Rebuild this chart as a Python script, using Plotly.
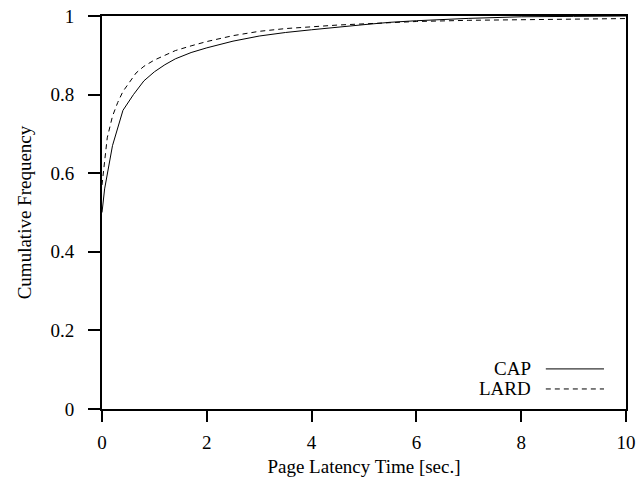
import plotly.graph_objects as go

cap_x = [0, 0.05, 0.2, 0.4, 0.6, 0.8, 1.0, 1.2, 1.4, 1.7, 2.0, 2.5, 3.0, 3.5, 4.0, 4.5, 5.0, 5.5, 6.0, 7.0, 8.0, 9.0, 10.0]
cap_y = [0.50, 0.56, 0.67, 0.76, 0.80, 0.835, 0.858, 0.876, 0.891, 0.907, 0.919, 0.936, 0.949, 0.958, 0.965, 0.972, 0.978, 0.984, 0.988, 0.994, 0.998, 0.999, 1.0]

lard_x = [0, 0.1, 0.2, 0.3, 0.4, 0.5, 0.65, 0.8, 1.0, 1.2, 1.4, 1.7, 2.0, 2.5, 3.0, 3.5, 4.0, 4.5, 5.0, 5.5, 6.0, 7.0, 8.0, 9.0, 10.0]
lard_y = [0.57, 0.69, 0.745, 0.78, 0.808, 0.828, 0.855, 0.872, 0.888, 0.9, 0.912, 0.924, 0.935, 0.95, 0.961, 0.968, 0.973, 0.977, 0.98, 0.983, 0.986, 0.989, 0.991, 0.9925, 0.9935]

x_ticks = [0, 2, 4, 6, 8, 10]
y_ticks = [0, 0.2, 0.4, 0.6, 0.8, 1]
y_tick_text = ["0", "0.2", "0.4", "0.6", "0.8", "1"]

FONT = "Liberation Serif, Times New Roman, serif"
FS = 19

fig = go.Figure()
fig.add_trace(go.Scatter(x=cap_x, y=cap_y, mode="lines", name="CAP",
                         line=dict(color="black", width=1), showlegend=False))
fig.add_trace(go.Scatter(x=lard_x, y=lard_y, mode="lines", name="LARD",
                         line=dict(color="black", width=1, dash="5px,4px"), showlegend=False))

axis_common = dict(showgrid=False, zeroline=False, showline=True, linecolor="black",
                   linewidth=2, mirror=True, ticks="outside", tickwidth=1.5,
                   tickcolor="black", automargin=False,
                   tickfont=dict(family=FONT, size=FS, color="black"))

fig.update_xaxes(range=[0, 10], tickvals=x_ticks, ticktext=[str(v) for v in x_ticks],
                 ticklen=11, ticklabelstandoff=4,
                 title=dict(text="Page Latency Time [sec.]", font=dict(family=FONT, size=FS, color="black"),
                            standoff=8),
                 **axis_common)
fig.update_yaxes(range=[0, 1], tickvals=y_ticks, ticktext=y_tick_text,
                 ticklen=12, ticklabelstandoff=10,
                 title=dict(text="Cumulative Frequency", font=dict(family=FONT, size=FS, color="black"),
                            standoff=14),
                 **axis_common)

# legend drawn manually (text left, line sample right)
legend_items = [("CAP", 0.102, None), ("LARD", 0.051, "5px,4px")]
for name, yp, dash in legend_items:
    fig.add_annotation(x=0.8225, y=yp, xref="paper", yref="paper", text=name, showarrow=False,
                       xanchor="right", yanchor="middle",
                       font=dict(family=FONT, size=FS, color="black"))
    fig.add_shape(type="line", xref="paper", yref="paper", x0=0.847, x1=0.958, y0=yp, y1=yp,
                  line=dict(color="black", width=1, dash=dash if dash else "solid"))

fig.update_layout(width=639, height=482, margin=dict(l=102, r=13, t=16, b=73),
                  paper_bgcolor="white", plot_bgcolor="white",
                  font=dict(family=FONT, color="black"))

fig.write_html("out.html")
